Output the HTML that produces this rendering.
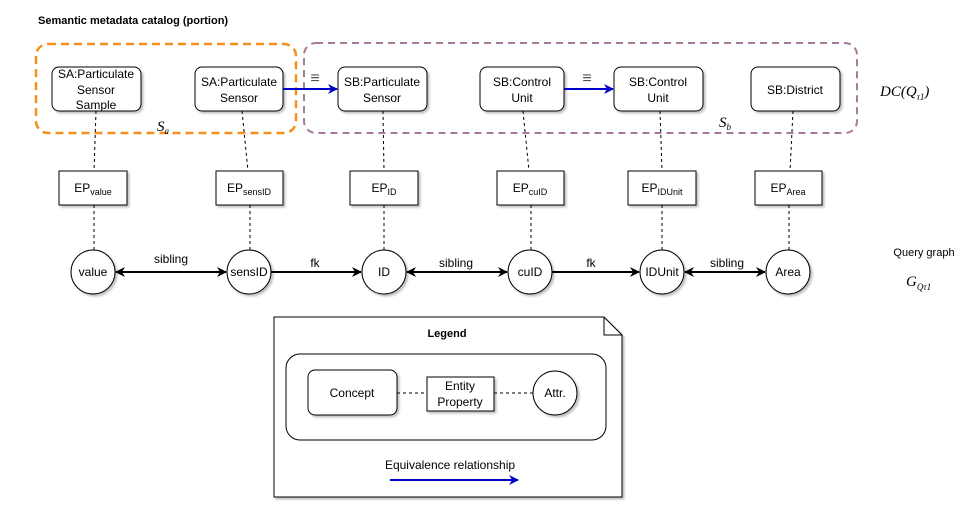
<!DOCTYPE html>
<html><head><meta charset="utf-8"><style>
body{margin:0;background:#fff}
svg{display:block;font-family:"Liberation Sans",Arial,sans-serif}
</style></head><body>
<svg width="976" height="517" viewBox="0 0 976 517" xmlns="http://www.w3.org/2000/svg">
<defs>
<filter id="sh" x="-20%" y="-20%" width="150%" height="150%"><feDropShadow dx="2" dy="2" stdDeviation="1" flood-color="#000" flood-opacity="0.25"/></filter>
<marker id="ab" markerWidth="10" markerHeight="10" refX="9" refY="5" orient="auto-start-reverse" markerUnits="userSpaceOnUse"><path d="M0,0 L10,5 L0,10 L3,5 Z" fill="#000"/></marker>
<marker id="abl" markerWidth="10" markerHeight="10" refX="9" refY="5" orient="auto" markerUnits="userSpaceOnUse"><path d="M0,0 L10,5 L0,10 L3,5 Z" fill="#0000cc"/></marker>
</defs>
<text x="38" y="24" font-size="11" font-weight="bold">Semantic metadata catalog (portion)</text>
<rect x="36" y="44" width="260" height="89" rx="12" fill="none" stroke="#f5901e" stroke-width="2.5" stroke-dasharray="8,5"/>
<rect x="304" y="43" width="553" height="90" rx="12" fill="none" stroke="#a57a9c" stroke-width="2" stroke-dasharray="7,5"/>
<text x="157" y="131" font-size="15" font-style="italic" font-family="Liberation Serif,serif">S<tspan font-size="9" dy="3">a</tspan></text>
<text x="719" y="127" font-size="15" font-style="italic" font-family="Liberation Serif,serif">S<tspan font-size="9" dy="3">b</tspan></text>
<text x="880" y="96" font-size="15" font-style="italic" font-family="Liberation Serif,serif">DC(Q<tspan font-size="9" dy="4">τ1</tspan><tspan dy="-4">)</tspan></text>
<text x="924" y="256" font-size="11" text-anchor="middle">Query graph</text>
<text x="906" y="286" font-size="15" font-style="italic" font-family="Liberation Serif,serif">G<tspan font-size="9" dy="4">Qτ1</tspan></text>
<g stroke="#000" stroke-dasharray="3,3" fill="none">
<line x1="96" y1="111" x2="94" y2="171"/><line x1="94" y1="205" x2="94" y2="250"/>
<line x1="242" y1="111" x2="248" y2="171"/><line x1="250" y1="205" x2="250" y2="250"/>
<line x1="383" y1="111" x2="384" y2="171"/><line x1="384" y1="205" x2="384" y2="250"/>
<line x1="523" y1="111" x2="529" y2="171"/><line x1="531" y1="205" x2="531" y2="250"/>
<line x1="660" y1="111" x2="662" y2="171"/><line x1="662" y1="205" x2="662" y2="250"/>
<line x1="793" y1="111" x2="790" y2="171"/><line x1="789" y1="205" x2="789" y2="250"/>
</g>
<g fill="#fff" stroke="#000" filter="url(#sh)">
<rect x="52" y="67" width="89" height="44" rx="7"/>
<rect x="195" y="67" width="88" height="44" rx="7"/>
<rect x="338" y="67" width="89" height="44" rx="7"/>
<rect x="480" y="67" width="84" height="44" rx="7"/>
<rect x="614" y="67" width="89" height="44" rx="7"/>
<rect x="751" y="67" width="89" height="44" rx="7"/>
<rect x="59" y="171" width="68" height="34"/>
<rect x="216" y="171" width="67" height="34"/>
<rect x="350" y="171" width="68" height="34"/>
<rect x="497" y="171" width="67" height="34"/>
<rect x="628" y="171" width="68" height="34"/>
<rect x="755" y="171" width="67" height="34"/>
<circle cx="93" cy="272" r="22"/><circle cx="249" cy="272" r="22"/><circle cx="384" cy="272" r="22"/>
<circle cx="530" cy="272" r="22"/><circle cx="662" cy="272" r="22"/><circle cx="788" cy="272" r="22"/>
</g>
<g font-size="12" text-anchor="middle">
<text x="96" y="78">SA:Particulate</text><text x="96" y="94">Sensor</text><text x="96" y="109">Sample</text>
<text x="239" y="86">SA:Particulate</text><text x="239" y="102">Sensor</text>
<text x="382" y="86">SB:Particulate</text><text x="382" y="102">Sensor</text>
<text x="522" y="86">SB:Control</text><text x="522" y="102">Unit</text>
<text x="658" y="86">SB:Control</text><text x="658" y="102">Unit</text>
<text x="795" y="94">SB:District</text>
<text x="93" y="192">EP<tspan font-size="9" dy="3">value</tspan></text>
<text x="249" y="192">EP<tspan font-size="9" dy="3">sensID</tspan></text>
<text x="384" y="192">EP<tspan font-size="9" dy="3">ID</tspan></text>
<text x="530" y="192">EP<tspan font-size="9" dy="3">cuID</tspan></text>
<text x="662" y="192">EP<tspan font-size="9" dy="3">IDUnit</tspan></text>
<text x="788" y="192">EP<tspan font-size="9" dy="3">Area</tspan></text>
<text x="93" y="276">value</text><text x="249" y="276">sensID</text><text x="384" y="276">ID</text>
<text x="530" y="276">cuID</text><text x="662" y="276">IDUnit</text><text x="788" y="276">Area</text>
<text x="171" y="263">sibling</text><text x="315" y="267">fk</text><text x="456" y="267">sibling</text>
<text x="591" y="267">fk</text><text x="727" y="267">sibling</text>
</g>
<g font-size="16" text-anchor="middle" fill="#555"><text x="315" y="83">≡</text><text x="587" y="83">≡</text></g>
<g stroke="#000" stroke-width="2" fill="none">
<line x1="116" y1="272" x2="226" y2="272" marker-start="url(#ab)" marker-end="url(#ab)"/>
<line x1="271" y1="272" x2="361" y2="272" marker-end="url(#ab)"/>
<line x1="407" y1="272" x2="507" y2="272" marker-start="url(#ab)" marker-end="url(#ab)"/>
<line x1="552" y1="272" x2="639" y2="272" marker-end="url(#ab)"/>
<line x1="685" y1="272" x2="765" y2="272" marker-start="url(#ab)" marker-end="url(#ab)"/>
</g>
<g stroke="#0000cc" stroke-width="2">
<line x1="283" y1="89" x2="337" y2="89" marker-end="url(#abl)"/>
<line x1="564" y1="89" x2="613" y2="89" marker-end="url(#abl)"/>
</g>
<path d="M274,317 H604 L622,335 V497 H274 Z" fill="#fff" stroke="#000" filter="url(#sh)"/>
<path d="M604,317 V335 H622" fill="none" stroke="#000"/>
<line x1="390" y1="480" x2="518" y2="480" stroke="#0000cc" stroke-width="2" marker-end="url(#abl)"/>
<text x="447" y="337" font-size="11" font-weight="bold" text-anchor="middle">Legend</text>
<rect x="286" y="354" width="320" height="86" rx="14" fill="none" stroke="#000"/>
<g stroke="#000" stroke-dasharray="3,3"><line x1="397" y1="393" x2="427" y2="393"/><line x1="494" y1="393" x2="533" y2="393"/></g>
<g fill="#fff" stroke="#000" filter="url(#sh)">
<rect x="308" y="370" width="89" height="45" rx="7"/>
<rect x="427" y="377" width="67" height="34"/>
<circle cx="555" cy="393" r="22"/>
</g>
<g font-size="12" text-anchor="middle">
<text x="352" y="397">Concept</text>
<text x="460" y="390">Entity</text><text x="460" y="406">Property</text>
<text x="555" y="397">Attr.</text>
<text x="450" y="469">Equivalence relationship</text>
</g>
</svg>
</body></html>
